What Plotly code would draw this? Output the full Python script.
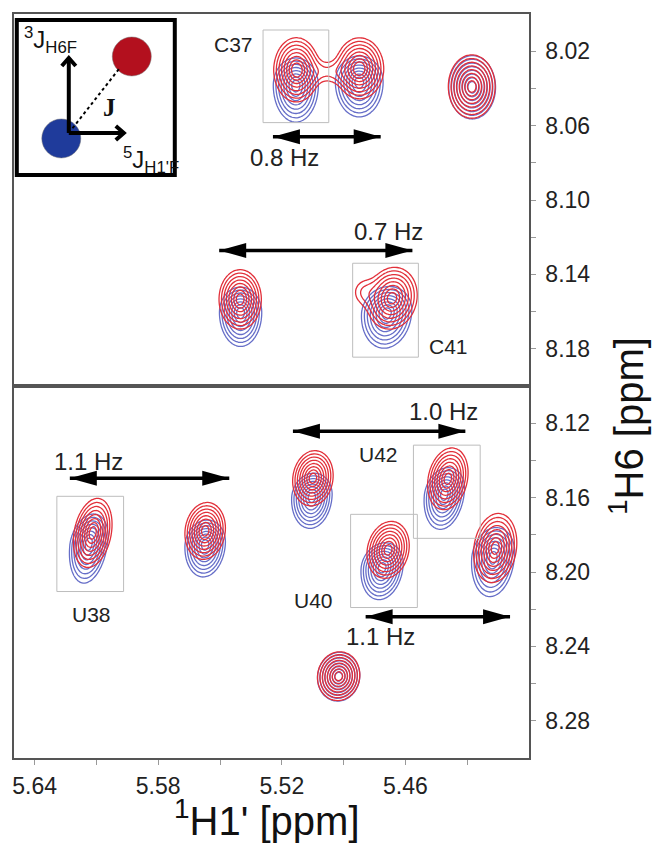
import numpy as np
import plotly.graph_objects as go

# ---------------- data (ppm) ----------------
peak_label = ["C37", "C37b", "T-right", "C41b", "C41",
              "U38", "U38b", "U40b", "U42", "U40", "B-right", "B-small"]
peak_panel = ["top", "top", "top", "top", "top",
              "bottom", "bottom", "bottom", "bottom", "bottom", "bottom", "bottom"]
blue_h1 = [5.5132, 5.4824, 5.4276, 5.5400, 5.4691,
           5.6137, 5.5572, 5.5054, 5.4411, 5.4713, 5.4174, 5.4924]
blue_h6 = [8.0383, 8.0365, 8.0394, 8.1604, 8.1606,
           8.1846, 8.1851, 8.1595, 8.1580, 8.1973, 8.1919, 8.2563]
red_h1 = [5.5129, 5.4822, 5.4278, 5.5402, 5.4665,
          5.6118, 5.5572, 5.5049, 5.4394, 5.4684, 5.4164, 5.4924]
red_h6 = [8.0300, 8.0292, 8.0390, 8.1534, 8.1528,
          8.1790, 8.1779, 8.1496, 8.1499, 8.1881, 8.1871, 8.2560]
width_h1 = [0.0050, 0.0053, 0.0052, 0.0047, 0.0056,
            0.0043, 0.0045, 0.0045, 0.0045, 0.0047, 0.0048, 0.0047]
width_h6 = [0.0079, 0.0075, 0.0078, 0.0073, 0.0076,
            0.0085, 0.0070, 0.0068, 0.0076, 0.0070, 0.0085, 0.0060]
tilt = [0.0, 0.0, 0.0, 0.0, 0.1, 0.25, 0.1, 0.1, 0.2, 0.15, 0.15, 0.05]
blue_tail = [1.35, 1.35, 1.0, 1.35, 1.35, 1.35, 1.35, 1.35, 1.35, 1.35, 1.35, 1.0]

# extra weak red features (C37 bridge, C41 shoulder)
extra_panel = ["top", "top"]
extra_h1 = [5.4972, 5.4800]
extra_h6 = [8.0311, 8.1495]
extra_amp = [0.16, 0.15]
extra_w_h1 = [0.0100, 0.0040]
extra_w_h6 = [0.0040, 0.0050]

# axis ticks
x_tick_values = [5.64, 5.58, 5.52, 5.46]
x_tick_labels = ["5.64", "5.58", "5.52", "5.46"]
x_minor_values = [5.61, 5.55, 5.49, 5.43]
top_y_tick_values = [8.02, 8.06, 8.10, 8.14, 8.18]
top_y_tick_labels = ["8.02", "8.06", "8.10", "8.14", "8.18"]
top_y_minor_values = [8.04, 8.08, 8.12, 8.16]
bot_y_tick_values = [8.12, 8.16, 8.20, 8.24, 8.28]
bot_y_tick_labels = ["8.12", "8.16", "8.20", "8.24", "8.28"]
bot_y_minor_values = [8.14, 8.18, 8.22, 8.26]

x_range = [5.65, 5.40]
top_y_range = [8.20, 8.00]
bot_y_range = [8.30, 8.10]

# text labels
label_text = ["C37", "0.8 Hz", "0.7 Hz", "C41", "1.1 Hz", "U38", "1.0 Hz", "U42", "U40", "1.1 Hz"]
label_h1 = [5.5436, 5.5185, 5.4682, 5.4392, 5.6137, 5.6123, 5.4416, 5.4730, 5.5044, 5.4720]
label_h6 = [8.0166, 8.0772, 8.1169, 8.1786, 8.1404, 8.2229, 8.1135, 8.1367, 8.2154, 8.2348]
label_panel = ["top", "top", "top", "top", "bottom", "bottom", "bottom", "bottom", "bottom", "bottom"]

# coupling arrows
arrow_h1_left = [5.5243, 5.5504, 5.6229, 5.5146, 5.4793]
arrow_h1_right = [5.4720, 5.4566, 5.5455, 5.4309, 5.4092]
arrow_h6 = [8.0660, 8.1271, 8.1496, 8.1243, 8.2240]
arrow_panel = ["top", "top", "bottom", "bottom", "bottom"]

# boxes around assigned peaks
box_h1_left = [5.5291, 5.4856, 5.6292, 5.4561, 5.4866]
box_h1_right = [5.4972, 5.4537, 5.5968, 5.4237, 5.4542]
box_h6_top = [8.0086, 8.1340, 8.1593, 8.1318, 8.1690]
box_h6_bottom = [8.0584, 8.1845, 8.2105, 8.1819, 8.2191]
box_panel = ["top", "top", "bottom", "bottom", "bottom"]

# ---------------- styles ----------------
RED = "rgb(226,48,58)"
BLUE = "rgb(102,110,200)"
FONT = "Liberation Sans, Arial, sans-serif"
AX = {"top": ("x2", "y2"), "bottom": ("x", "y")}


def peak(X, Y, cx, cy, sx, sy, rho, amp, tail=1.0):
    u = (X - cx) / sx
    if tail != 1.0:
        s_up = sy * 2.0 / (1.0 + tail)
        v = np.where(Y < cy, (Y - cy) / s_up, (Y - cy) / (s_up * tail))
    else:
        v = (Y - cy) / sy
    return amp * np.exp(-(u * u - 2 * rho * u * v + v * v) / (2 * (1 - rho * rho)))


xs = np.arange(x_range[1], x_range[0] + 1e-9, 0.001)
grids = {
    "top": np.arange(top_y_range[1], top_y_range[0] + 1e-9, 0.001),
    "bottom": np.arange(bot_y_range[1], bot_y_range[0] + 1e-9, 0.001),
}

fig = go.Figure()
for panel in ["top", "bottom"]:
    ys = grids[panel]
    X, Y = np.meshgrid(xs, ys)
    for color, cxs, cys in [(BLUE, blue_h1, blue_h6), (RED, red_h1, red_h6)]:
        Z = np.zeros_like(X)
        for i in range(len(peak_label)):
            if peak_panel[i] != panel:
                continue
            tail = blue_tail[i] if color == BLUE else 1.0
            Z += peak(X, Y, cxs[i], cys[i], width_h1[i], width_h6[i], tilt[i], 1.0, tail)
        if color == RED:
            for j in range(len(extra_h1)):
                if extra_panel[j] == panel:
                    Z += peak(X, Y, extra_h1[j], extra_h6[j], extra_w_h1[j],
                              extra_w_h6[j], 0.0, extra_amp[j])
        W = np.round(np.sqrt(-2.0 * np.log(np.clip(Z, 0.02, 1.0))), 3)
        xa, ya = AX[panel]
        fig.add_trace(go.Contour(
            x=np.round(xs, 4), y=np.round(ys, 4), z=W,
            xaxis=xa, yaxis=ya,
            contours=dict(coloring="lines", start=0.40, end=2.2, size=0.255),
            colorscale=[[0, color], [1, color]], showscale=False,
            line=dict(width=1.3, smoothing=1.0), hoverinfo="skip",
        ))

shapes = []
annotations = []

for i in range(len(box_panel)):
    xa, ya = AX[box_panel[i]]
    shapes.append(dict(type="rect", xref=xa, yref=ya,
                       x0=box_h1_left[i], x1=box_h1_right[i],
                       y0=box_h6_top[i], y1=box_h6_bottom[i],
                       line=dict(color="#bdbdbd", width=1), layer="above"))

for i in range(len(arrow_panel)):
    xa, ya = AX[arrow_panel[i]]
    shapes.append(dict(type="line", xref=xa, yref=ya,
                       x0=arrow_h1_left[i], x1=arrow_h1_right[i],
                       y0=arrow_h6[i], y1=arrow_h6[i],
                       line=dict(color="black", width=3.5), layer="above"))
    shapes.append(dict(type="path", xref=xa, yref=ya, xsizemode="pixel", ysizemode="pixel",
                       xanchor=arrow_h1_left[i], yanchor=arrow_h6[i],
                       path="M0,0 L27,7.5 L27,-7.5 Z", fillcolor="black",
                       line=dict(width=0), layer="above"))
    shapes.append(dict(type="path", xref=xa, yref=ya, xsizemode="pixel", ysizemode="pixel",
                       xanchor=arrow_h1_right[i], yanchor=arrow_h6[i],
                       path="M0,0 L-27,7.5 L-27,-7.5 Z", fillcolor="black",
                       line=dict(width=0), layer="above"))

for i in range(len(label_text)):
    xa, ya = AX[label_panel[i]]
    annotations.append(dict(text=label_text[i], x=label_h1[i], y=label_h6[i],
                            xref=xa, yref=ya, showarrow=False,
                            xanchor="center", yanchor="middle",
                            font=dict(family=FONT, size=24 if "Hz" in label_text[i] else 21,
                                      color="#222")))

# ---------------- inset (pixel offsets from its origin) ----------------
ox, oy = 0.1064, 0.8401
pix = dict(xref="paper", yref="paper", xsizemode="pixel", ysizemode="pixel",
           xanchor=ox, yanchor=oy, layer="above")
shapes.append(dict(type="rect", x0=-52, x1=106, y0=-42, y1=113,
                   fillcolor="white", line=dict(color="black", width=4), **pix))
shapes.append(dict(type="circle", x0=43.5, x1=82.5, y0=57, y1=96,
                   fillcolor="#b3101e", line=dict(color="#777", width=0.5), **pix))
shapes.append(dict(type="circle", x0=-27, x1=12, y0=-25, y1=14,
                   fillcolor="#1f3b9b", line=dict(color="#777", width=0.5), **pix))
shapes.append(dict(type="path", path="M0,0 L51,65", fillcolor="rgba(0,0,0,0)",
                   line=dict(color="black", width=2, dash="dot"), **pix))
shapes.append(dict(type="path", path="M0,0 L0,75", fillcolor="rgba(0,0,0,0)",
                   line=dict(color="black", width=4), **pix))
shapes.append(dict(type="path", path="M0,0 L55,0", fillcolor="rgba(0,0,0,0)",
                   line=dict(color="black", width=4), **pix))
shapes.append(dict(type="path", path="M-7,67 L0,75 L7,67", fillcolor="rgba(0,0,0,0)",
                   line=dict(color="black", width=4), **pix))
shapes.append(dict(type="path", path="M47,7 L55,0 L47,-7", fillcolor="rgba(0,0,0,0)",
                   line=dict(color="black", width=4), **pix))

annotations.append(dict(text="<sup>3</sup>J<sub>H6F</sub>", x=ox, y=oy, xref="paper", yref="paper",
                        xshift=-47, yshift=93, xanchor="left", yanchor="middle", showarrow=False,
                        font=dict(family=FONT, size=24, color="#111")))
annotations.append(dict(text="<sup>5</sup>J<sub>H1'F</sub>", x=ox, y=oy, xref="paper", yref="paper",
                        xshift=52, yshift=-27, xanchor="left", yanchor="middle", showarrow=False,
                        font=dict(family=FONT, size=24, color="#111")))
annotations.append(dict(text="<b>J</b>", x=ox, y=oy, xref="paper", yref="paper",
                        xshift=41, yshift=25, xanchor="center", yanchor="middle", showarrow=False,
                        font=dict(family="Liberation Serif, serif", size=25, color="#111")))

# axis titles
annotations.append(dict(text="<sup>1</sup>H1' [ppm]", x=0.491, y=-0.081, xref="paper", yref="paper",
                        showarrow=False, xanchor="center", yanchor="middle",
                        font=dict(family=FONT, size=40, color="#111")))
annotations.append(dict(text="<sup>1</sup>H6 [ppm]", x=1.19, y=0.446, xref="paper", yref="paper",
                        showarrow=False, textangle=-90, xanchor="center", yanchor="middle",
                        font=dict(family=FONT, size=40, color="#111")))

axis_common = dict(showgrid=False, zeroline=False, showline=True, linecolor="#555",
                   linewidth=1.5, mirror=True, ticks="outside", ticklen=5,
                   tickcolor="#999", tickwidth=1,
                   tickfont=dict(family=FONT, size=23, color="#222"))
minor_common = dict(ticks="outside", ticklen=5, tickcolor="#999", tickwidth=1, showgrid=False)

fig.update_layout(
    width=652, height=844,
    margin=dict(l=12, r=123, t=14, b=86),
    paper_bgcolor="white", plot_bgcolor="white",
    showlegend=False,
    xaxis=dict(domain=[0, 1], anchor="y", range=x_range, tickmode="array",
               tickvals=x_tick_values, ticktext=x_tick_labels, ticklabelstandoff=2,
               minor=dict(tickvals=x_minor_values, **minor_common), **axis_common),
    xaxis2=dict(domain=[0, 1], anchor="y2", range=x_range, matches="x",
                showgrid=False, zeroline=False, showline=True, linecolor="#555",
                linewidth=1.5, mirror=True, showticklabels=False, ticks=""),
    yaxis=dict(domain=[0, 0.5], anchor="x", side="right", range=bot_y_range,
               tickmode="array", tickvals=bot_y_tick_values, ticktext=bot_y_tick_labels,
               ticklabelstandoff=5,
               minor=dict(tickvals=bot_y_minor_values, **minor_common), **axis_common),
    yaxis2=dict(domain=[0.5, 1], anchor="x2", side="right", range=top_y_range,
                tickmode="array", tickvals=top_y_tick_values, ticktext=top_y_tick_labels,
                ticklabelstandoff=5,
                minor=dict(tickvals=top_y_minor_values, **minor_common), **axis_common),
    shapes=shapes,
    annotations=annotations,
)

fig.write_html("out.html", config={"displayModeBar": False},
               post_script="document.body.style.margin='0';")
